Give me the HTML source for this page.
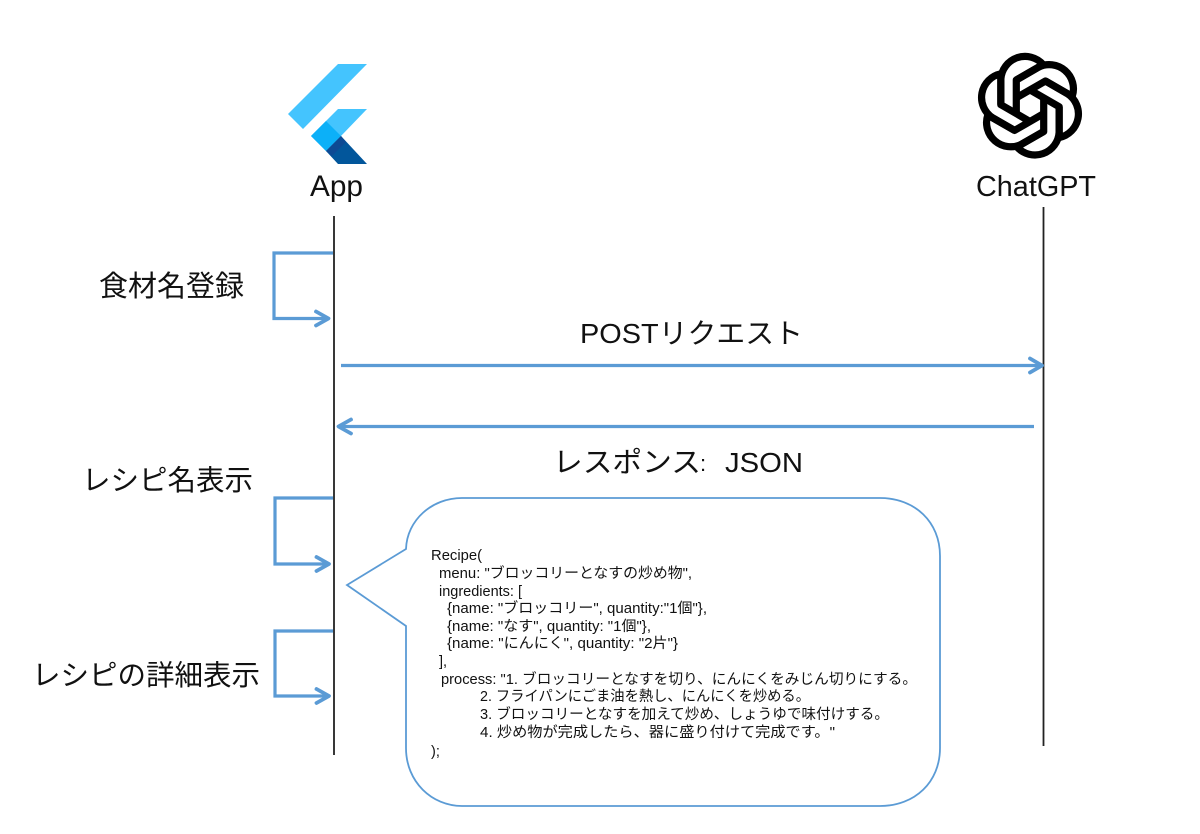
<!DOCTYPE html>
<html lang="ja">
<head>
<meta charset="utf-8">
<style>
html,body{margin:0;padding:0;background:#fff}
svg{display:block}
text{font-family:"Liberation Sans","Noto Sans CJK JP",sans-serif;fill:#111}
.c{font-size:14.5px}
</style>
</head>
<body>
<svg width="1200" height="834" viewBox="0 0 1200 834" xmlns="http://www.w3.org/2000/svg">
<rect width="1200" height="834" fill="#fff"/>
<!-- Flutter logo -->
<polygon points="338,64 367,64 303,129 288,114" fill="#44c4fe"/>
<polygon points="338,109 367,109 341,136 326,151 311,136" fill="#44c4fe"/>
<polygon points="311,136 326,121 341,136 326,151" fill="#0cb0f8"/>
<polygon points="326,151 341,136 367,164 338,164" fill="#02569b"/>
<polygon points="326,151 341,136 346,142 332,156" fill="#0d4a94"/>
<!-- ChatGPT logo -->
<g transform="translate(1030,105.7) scale(1.03)" fill="none" stroke="#000" stroke-width="7" stroke-linejoin="round">
<path d="M-28.3,-1 L-28.3,-25.7 A23.500,23.500 0 0 1 12.700,-40 L-13.300,-25 L-13.300,9"/>
<path transform="rotate(60)" d="M-28.3,-1 L-28.3,-25.7 A23.500,23.500 0 0 1 12.700,-40 L-13.300,-25 L-13.300,9"/>
<path transform="rotate(120)" d="M-28.3,-1 L-28.3,-25.7 A23.500,23.500 0 0 1 12.700,-40 L-13.300,-25 L-13.300,9"/>
<path transform="rotate(180)" d="M-28.3,-1 L-28.3,-25.7 A23.500,23.500 0 0 1 12.700,-40 L-13.300,-25 L-13.300,9"/>
<path transform="rotate(240)" d="M-28.3,-1 L-28.3,-25.7 A23.500,23.500 0 0 1 12.700,-40 L-13.300,-25 L-13.300,9"/>
<path transform="rotate(300)" d="M-28.3,-1 L-28.3,-25.7 A23.500,23.500 0 0 1 12.700,-40 L-13.300,-25 L-13.300,9"/>
</g>
<!-- Titles -->
<text x="310" y="196" font-size="30" textLength="53" lengthAdjust="spacingAndGlyphs">App</text>
<text x="976" y="196" font-size="29" textLength="120" lengthAdjust="spacingAndGlyphs">ChatGPT</text>
<!-- Lifelines -->
<line x1="334" y1="216" x2="334" y2="755" stroke="#222" stroke-width="1.8"/>
<line x1="1043.5" y1="207" x2="1043.5" y2="746" stroke="#222" stroke-width="1.8"/>
<!-- Connectors -->
<g fill="none" stroke="#5b9bd5" stroke-width="3.2">
<polyline points="333,253 274,253 274,318.500 328,318.500"/>
<polyline points="316,311.500 328.500,318.500 316,325.500" stroke-width="3.800" stroke-linecap="round" stroke-linejoin="round"/>
<polyline points="333,498 275,498 275,564 328,564"/>
<polyline points="316.500,557 329,564 316.500,571" stroke-width="3.800" stroke-linecap="round" stroke-linejoin="round"/>
<polyline points="333,631 275,631 275,696 328,696"/>
<polyline points="316.500,689 329,696 316.500,703" stroke-width="3.800" stroke-linecap="round" stroke-linejoin="round"/>
<line x1="341" y1="365.500" x2="1041" y2="365.500"/>
<polyline points="1030,358.500 1042,365.500 1030,372.500" stroke-width="3.800" stroke-linecap="round" stroke-linejoin="round"/>
<line x1="1034" y1="426.500" x2="339" y2="426.500"/>
<polyline points="351,419.500 338.500,426.500 351,433.500" stroke-width="3.800" stroke-linecap="round" stroke-linejoin="round"/>
</g>
<!-- Labels -->
<text x="99" y="296" font-size="29" textLength="145" lengthAdjust="spacingAndGlyphs">食材名登録</text>
<text x="580" y="343" font-size="28" textLength="223" lengthAdjust="spacingAndGlyphs">POSTリクエスト</text>
<text x="553" y="472" font-size="28.500" textLength="148" lengthAdjust="spacingAndGlyphs">レスポンス</text>
<text x="700" y="471" font-size="22">:</text>
<text x="725" y="472" font-size="28" textLength="78" lengthAdjust="spacingAndGlyphs">JSON</text>
<text x="82" y="490" font-size="28.500" textLength="171" lengthAdjust="spacingAndGlyphs">レシピ名表示</text>
<text x="32" y="685" font-size="28.500" textLength="228" lengthAdjust="spacingAndGlyphs">レシピの詳細表示</text>
<!-- Speech bubble -->
<path d="M406,549 C407,520 432,498 462,498 L880,498 C915,498 940,522 940,556 L940,748 C940,782 915,806 880,806 L462,806 C432,806 406,782 406,748 L406,626 L347,585 Z" fill="#fff" stroke="#5b9bd5" stroke-width="1.800"/>
<!-- Code -->
<g class="c">
<text x="431" y="560" textLength="51" lengthAdjust="spacingAndGlyphs">Recipe(</text>
<text x="439" y="578" textLength="253" lengthAdjust="spacingAndGlyphs">menu: "ブロッコリーとなすの炒め物",</text>
<text x="439" y="596">ingredients: [</text>
<text x="447" y="613" textLength="260" lengthAdjust="spacingAndGlyphs">{name: "ブロッコリー", quantity:"1個"},</text>
<text x="447" y="631" textLength="204" lengthAdjust="spacingAndGlyphs">{name: "なす", quantity: "1個"},</text>
<text x="447" y="648" textLength="231" lengthAdjust="spacingAndGlyphs">{name: "にんにく", quantity: "2片"}</text>
<text x="439" y="666">],</text>
<text x="441" y="684" textLength="476" lengthAdjust="spacingAndGlyphs">process: "1. ブロッコリーとなすを切り、にんにくをみじん切りにする。</text>
<text x="480" y="701" textLength="330" lengthAdjust="spacingAndGlyphs">2. フライパンにごま油を熱し、にんにくを炒める。</text>
<text x="480" y="719" textLength="409" lengthAdjust="spacingAndGlyphs">3. ブロッコリーとなすを加えて炒め、しょうゆで味付けする。</text>
<text x="480" y="737" textLength="355" lengthAdjust="spacingAndGlyphs">4. 炒め物が完成したら、器に盛り付けて完成です。"</text>
<text x="431" y="756">);</text>
</g>
</svg>
</body>
</html>
